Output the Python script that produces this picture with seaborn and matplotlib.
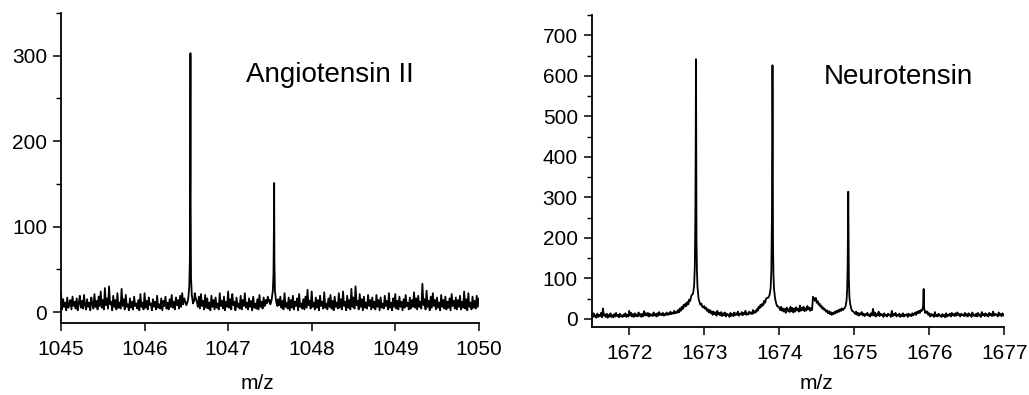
import numpy as np
import pandas as pd
import matplotlib
matplotlib.use("Agg")
import matplotlib.pyplot as plt
import seaborn as sns
from matplotlib.ticker import MultipleLocator, NullLocator

# ---- Angiotensin II: baseline read every 0.0125 m/z from 1045.000 to 1050.000
ang_start = 1045.0
ang_step = 0.0125
ang_noise = [
    22, 3, 15, 6, 11, 2, 17, 5, 9, 14, 3, 18, 7, 12, 4, 16, 2, 10, 19, 5,
    13, 4, 20, 8, 3, 15, 6, 11, 2, 17, 9, 4, 21, 6, 13, 3, 18, 7, 24, 5,
    14, 3, 28, 8, 16, 4, 30, 9, 12, 2, 19, 6, 14, 3, 22, 5, 11, 4, 27, 7,
    15, 3, 20, 6, 9, 2, 16, 5, 12, 3, 18, 7, 10, 4, 14, 2, 21, 6, 11, 3,
    22, 5, 13, 3, 17, 8, 10, 2, 15, 6, 12, 3, 19, 5, 9, 4, 16, 2, 13, 7,
    18, 4, 11, 3, 15, 6, 20, 5, 12, 3, 17, 8, 14, 4, 19, 6, 22, 9, 16, 12,
    15, 18, 22, 30, 60, 300, 60, 30, 22, 16, 12, 6, 18, 4, 21, 7, 13, 3, 20, 5,
    16, 4, 11, 2, 19, 6, 14, 3, 17, 5, 10, 3, 22, 7, 13, 4, 18, 2, 12, 6,
    24, 5, 15, 3, 21, 8, 12, 2, 17, 6, 10, 4, 19, 3, 14, 7, 22, 5, 11, 3,
    16, 6, 13, 2, 18, 5, 10, 4, 15, 3, 20, 6, 12, 4, 17, 7, 14, 10, 18, 12,
    14, 16, 20, 30, 60, 150, 60, 25, 15, 8, 18, 5, 13, 3, 22, 6, 11, 4, 17, 2,
    14, 5, 19, 3, 12, 7, 16, 2, 21, 6, 10, 4, 15, 3, 18, 5, 26, 8, 13, 4,
    24, 6, 11, 3, 17, 5, 14, 2, 19, 7, 12, 4, 23, 5, 10, 3, 16, 6, 20, 4,
    13, 2, 18, 6, 11, 4, 22, 5, 15, 3, 24, 7, 12, 2, 19, 5, 14, 3, 27, 6,
    17, 4, 30, 8, 13, 3, 21, 6, 15, 2, 18, 5, 11, 4, 20, 7, 14, 3, 17, 5,
    12, 3, 20, 6, 14, 2, 17, 5, 10, 4, 19, 7, 13, 3, 22, 5, 11, 2, 16, 6,
    21, 4, 13, 3, 18, 6, 12, 2, 15, 5, 20, 7, 11, 3, 17, 4, 14, 6, 23, 5,
    16, 3, 19, 6, 12, 4, 33, 8, 15, 3, 25, 6, 13, 2, 18, 5, 22, 7, 14, 3,
    17, 5, 11, 2, 20, 6, 14, 4, 18, 3, 12, 5, 16, 2, 21, 7, 13, 4, 17, 3,
    14, 6, 19, 3, 12, 5, 24, 4, 15, 2, 22, 6, 11, 3, 18, 5, 13, 4, 19, 6,
    16,
]
# isotope peaks (m/z, intensity)
ang_peak1_mz = [1046.500, 1046.515, 1046.525, 1046.535, 1046.542, 1046.546, 1046.549,
                1046.552, 1046.556, 1046.565, 1046.580, 1046.595]
ang_peak1_int = [8, 12, 18, 30, 60, 160, 303, 120, 40, 20, 10, 14]
ang_peak2_mz = [1047.505, 1047.520, 1047.535, 1047.543, 1047.548, 1047.551, 1047.554,
                1047.560, 1047.575, 1047.590]
ang_peak2_int = [9, 14, 25, 45, 100, 151, 60, 25, 12, 7]

# ---- Neurotensin: baseline read every 0.0125 m/z from 1671.500 to 1677.000
neu_start = 1671.5
neu_step = 0.0125
neu_noise = [
    12, 4, 14, 6, 9, 3, 13, 5, 10, 7, 15, 4, 26, 8, 11, 5, 13, 3, 10, 6,
    14, 5, 9, 4, 12, 6, 15, 7, 10, 4, 13, 6, 9, 5, 11, 7, 14, 5, 10, 6,
    20, 8, 15, 6, 12, 5, 14, 7, 11, 6, 16, 8, 12, 5, 13, 7, 19, 9, 14, 8,
    15, 6, 13, 8, 11, 7, 16, 9, 12, 6, 14, 8, 17, 10, 13, 9, 15, 8, 12, 10,
    16, 10, 14, 11, 18, 12, 15, 13, 20, 14, 17, 15, 22, 16, 26, 20, 30, 24, 35, 30,
    38, 32, 42, 36, 48, 44, 55, 58, 150, 640, 150, 80, 60, 50, 45, 40, 35, 38, 30, 28,
    32, 25, 28, 20, 24, 16, 22, 14, 19, 10, 18, 12, 16, 8, 20, 11, 15, 9, 17, 7,
    14, 9, 16, 6, 13, 10, 11, 5, 15, 8, 12, 7, 16, 9, 14, 10, 18, 8, 13, 11,
    17, 9, 15, 12, 20, 10, 14, 11, 18, 13, 16, 12, 22, 14, 19, 16, 24, 20, 30, 26,
    35, 30, 38, 34, 45, 40, 50, 52, 80, 100, 200, 625, 200, 80, 60, 45, 40, 35, 32, 30,
    28, 22, 30, 20, 26, 18, 25, 15, 28, 20, 24, 17, 30, 19, 27, 16, 26, 18, 29, 21,
    25, 18, 33, 20, 28, 22, 30, 19, 26, 21, 32, 24, 28, 20, 27, 22, 55, 50, 45, 52,
    40, 44, 35, 38, 30, 33, 25, 28, 22, 24, 18, 21, 14, 19, 12, 17, 10, 15, 12, 18,
    14, 20, 16, 22, 18, 24, 20, 26, 22, 25, 100, 315, 100, 60, 40, 30, 25, 22, 20, 18,
    16, 12, 18, 10, 15, 8, 14, 11, 17, 9, 13, 7, 12, 10, 15, 8, 11, 6, 14, 9,
    25, 8, 16, 6, 12, 9, 18, 7, 13, 10, 11, 5, 14, 8, 10, 6, 13, 9, 11, 5,
    20, 7, 12, 9, 15, 6, 10, 8, 13, 5, 11, 7, 14, 6, 10, 9, 12, 5, 13, 8,
    11, 7, 14, 9, 12, 16, 10, 18, 14, 20, 15, 22, 18, 25, 73, 28, 20, 15, 18, 10,
    14, 6, 12, 8, 11, 5, 17, 7, 10, 6, 13, 8, 9, 5, 12, 7, 10, 4, 14, 6,
    11, 8, 13, 6, 15, 9, 12, 7, 14, 8, 16, 10, 12, 6, 13, 9, 11, 7, 15, 8,
    12, 6, 14, 9, 11, 5, 16, 8, 10, 7, 13, 6, 15, 8, 11, 5, 17, 9, 12, 7,
    14, 8, 11, 6, 15, 9, 12, 7, 18, 8, 13, 10, 11, 6, 16, 9, 12, 7, 14, 8,
    10,
]
neu_peak1_mz = [1672.830, 1672.850, 1672.865, 1672.875, 1672.882, 1672.887, 1672.890,
                1672.893, 1672.897, 1672.903, 1672.910, 1672.925, 1672.940, 1672.950]
neu_peak1_int = [58, 62, 80, 130, 250, 450, 641, 500, 200, 120, 80, 50, 40, 35]
neu_peak2_mz = [1673.850, 1673.870, 1673.885, 1673.895, 1673.902, 1673.907, 1673.910,
                1673.913, 1673.917, 1673.923, 1673.930, 1673.945, 1673.960, 1673.970]
neu_peak2_int = [52, 58, 75, 120, 240, 430, 626, 480, 190, 110, 75, 50, 38, 32]
neu_peak3_mz = [1674.870, 1674.885, 1674.897, 1674.905, 1674.912, 1674.917, 1674.920,
                1674.923, 1674.928, 1674.935, 1674.945, 1674.960, 1674.970]
neu_peak3_int = [26, 32, 45, 70, 130, 230, 314, 240, 100, 55, 38, 25, 20]
neu_peak4_mz = [1675.900, 1675.912, 1675.918, 1675.922, 1675.925, 1675.928, 1675.933, 1675.945]
neu_peak4_int = [20, 25, 35, 55, 74, 45, 25, 15]

assert len(ang_noise) == 401 and len(neu_noise) == 441


def build_spectrum(start, step, noise, peaks):
    mz = start + step * np.arange(len(noise))
    inten = np.array(noise, dtype=float)
    keep = np.ones(len(mz), dtype=bool)
    for pk_mz, pk_int in peaks:
        keep &= ~((mz >= min(pk_mz) - 1e-6) & (mz <= max(pk_mz) + 1e-6))
    all_mz = np.concatenate([mz[keep]] + [np.array(p[0]) for p in peaks])
    all_int = np.concatenate([inten[keep]] + [np.array(p[1], dtype=float) for p in peaks])
    df = pd.DataFrame({"mz": all_mz, "intensity": all_int})
    return df.sort_values("mz").reset_index(drop=True)


ang_df = build_spectrum(ang_start, ang_step, ang_noise,
                        [(ang_peak1_mz, ang_peak1_int), (ang_peak2_mz, ang_peak2_int)])
neu_df = build_spectrum(neu_start, neu_step, neu_noise,
                        [(neu_peak1_mz, neu_peak1_int), (neu_peak2_mz, neu_peak2_int),
                         (neu_peak3_mz, neu_peak3_int), (neu_peak4_mz, neu_peak4_int)])

sns.set_style("ticks")
plt.rcParams["font.family"] = ["Liberation Sans", "DejaVu Sans"]
plt.rcParams["text.color"] = "black"
plt.rcParams["axes.labelcolor"] = "black"

fig = plt.figure(figsize=(10.29, 3.95), dpi=100)
ax1 = fig.add_axes([0.0593, 0.182, 0.406, 0.785])
ax2 = fig.add_axes([0.575, 0.172, 0.401, 0.790])


def style_axis(ax, xlim, ylim, yticks, xticks, label_x, label_y):
    ax.set_xlim(*xlim)
    ax.set_ylim(*ylim)
    ax.set_xticks(xticks)
    ax.set_yticks(yticks)
    ax.yaxis.set_minor_locator(MultipleLocator(50))
    ax.xaxis.set_minor_locator(NullLocator())
    sns.despine(ax=ax)
    for side in ("left", "bottom"):
        ax.spines[side].set_linewidth(1.3)
        ax.spines[side].set_color("black")
    ax.tick_params(which="major", length=6, width=1.1, labelsize=15, pad=4,
                   colors="black", labelcolor="black")
    ax.tick_params(which="minor", length=3.5, width=1.0, colors="black")
    ax.tick_params(axis="x", pad=6)
    ax.set_ylabel("")
    ax.set_xlabel("m/z", fontsize=15, color="black")
    ax.xaxis.set_label_coords(label_x, label_y)


sns.lineplot(data=ang_df, x="mz", y="intensity", ax=ax1, color="black", lw=1.3,
             estimator=None, sort=True)
style_axis(ax1, (1045, 1050), (-13, 350), [0, 100, 200, 300],
           [1045, 1046, 1047, 1048, 1049, 1050], 0.471, -0.165)
ax1.text(1047.21, 278, "Angiotensin II", fontsize=20, va="center", ha="left", color="black")

sns.lineplot(data=neu_df, x="mz", y="intensity", ax=ax2, color="black", lw=1.3,
             estimator=None, sort=True)
style_axis(ax2, (1671.5, 1677), (-20, 750), list(range(0, 800, 100)),
           [1672, 1673, 1674, 1675, 1676, 1677], 0.545, -0.15)
ax2.text(1674.6, 596, "Neurotensin", fontsize=20, va="center", ha="left", color="black")

fig.savefig("out.png", dpi=100)
